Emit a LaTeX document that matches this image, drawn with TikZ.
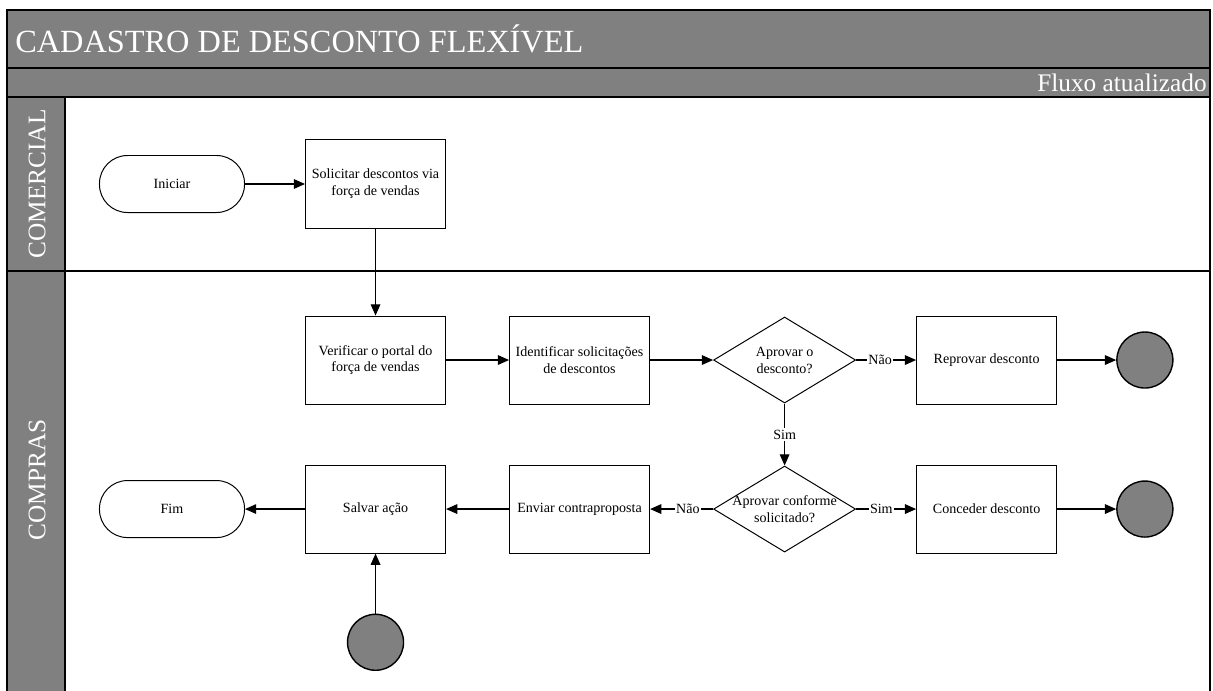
\documentclass[tikz,border=0pt]{standalone}
\usepackage{fontspec}
\setmainfont{Liberation Serif}
\usetikzlibrary{arrows.meta, positioning, shapes.geometric, shapes.misc}
\definecolor{laneGray}{HTML}{808080}
\tikzset{
  arrowK/.style={-{Triangle[length=2.8mm, width=2.4mm]}, black, line width=0.9pt},
  boxP/.style={rectangle, draw=black, fill=white, align=center, font=\normalsize,
               inner sep=2pt, minimum width=3.5cm, minimum height=2.2cm, line width=0.7pt},
  boxT/.style={rectangle, rounded corners=0.7cm, draw=black, fill=white, align=center,
               font=\normalsize, minimum width=3.625cm, minimum height=1.425cm, line width=0.7pt},
  boxD/.style={diamond, draw=black, fill=white, inner sep=0pt,
               minimum width=3.55cm, minimum height=2.15cm, line width=0.7pt},
  endC/.style={circle, draw=black, fill=laneGray, minimum size=1.4cm, line width=1pt},
  lblW/.style={fill=white, inner sep=1pt, font=\normalsize},
  laneTxt/.style={text=white, font=\fontsize{18}{21}\selectfont, inner sep=0pt},
}
\begin{document}
\begin{tikzpicture}[x=0.025cm, y=-0.025cm, font=\normalsize, node distance=2.175cm and 1.575cm]
  \useasboundingbox (0,0) rectangle (1213,691);
  % raias
  \begin{scope}
    \clip (0,0) rectangle (1213,691);
    \fill[laneGray] (7,10) rectangle (1210,97);
    \fill[laneGray] (7,97) rectangle (65,700);
    \draw[line width=1.3pt] (7,700) -- (7,10) -- (1210,10) -- (1210,700);
    \draw[line width=1.3pt] (7,68) -- (1210,68);
    \draw[line width=1.3pt] (7,97) -- (1210,97);
    \draw[line width=1pt] (65,97) -- (65,700);
    \draw[line width=1pt] (7,271) -- (1210,271);
  \end{scope}
  \node[laneTxt, anchor=west, font=\fontsize{23}{27}\selectfont] (tit) at (15,39) {CADASTRO DE DESCONTO FLEXÍVEL};
  \node[laneTxt, anchor=east] (sub) at (1207,83) {Fluxo atualizado};
  \node[laneTxt, rotate=90] (laneC) at (37,184) {COMERCIAL};
  \node[laneTxt, rotate=90] (laneP) at (37,480) {COMPRAS};

  % fluxo
  \node[boxT] (ini) at (172,184) {Iniciar};
  \node[boxP, right=1.5cm of ini] (sol) {Solicitar descontos via\\força de vendas};
  \node[boxP, below=of sol] (ver) {Verificar o portal do\\força de vendas};
  \node[boxP, right=of ver] (ide) {Identificar solicitações\\de descontos};
  \node[boxD, right=of ide, label={[align=center]center:Aprovar o\\desconto?}] (d1) {};
  \node[boxP, right=1.5cm of d1] (rep) {Reprovar desconto};
  \node[endC, right=1.475cm of rep] (fimA) {};
  \node[boxD, below=1.55cm of d1, label={[align=center]center:Aprovar conforme\\solicitado?}] (d2) {};
  \node[boxP, right=1.5cm of d2] (con) {Conceder desconto};
  \node[endC, right=1.475cm of con] (fimB) {};
  \node[boxP, left=of d2] (env) {Enviar contraproposta};
  \node[boxP, left=of env] (sal) {Salvar ação};
  \node[boxT, left=1.5cm of sal] (fim) {Fim};
  \node[endC, below=1.5cm of sal] (iniC) {};

  \draw[arrowK] (ini) -- (sol);
  \draw[arrowK] (sol) -- (ver);
  \draw[arrowK] (ver) -- (ide);
  \draw[arrowK] (ide) -- (d1);
  \draw[arrowK] (d1) -- node[lblW, pos=0.4] {Não} (rep);
  \draw[arrowK] (rep) -- (fimA);
  \draw[arrowK] (d1) -- node[lblW] {Sim} (d2);
  \draw[arrowK] (d2) -- node[lblW, pos=0.42] {Sim} (con);
  \draw[arrowK] (con) -- (fimB);
  \draw[arrowK] (d2) -- node[lblW, pos=0.4] {Não} (env);
  \draw[arrowK] (env) -- (sal);
  \draw[arrowK] (sal) -- (fim);
  \draw[arrowK] (iniC) -- (sal);
\end{tikzpicture}
\end{document}
